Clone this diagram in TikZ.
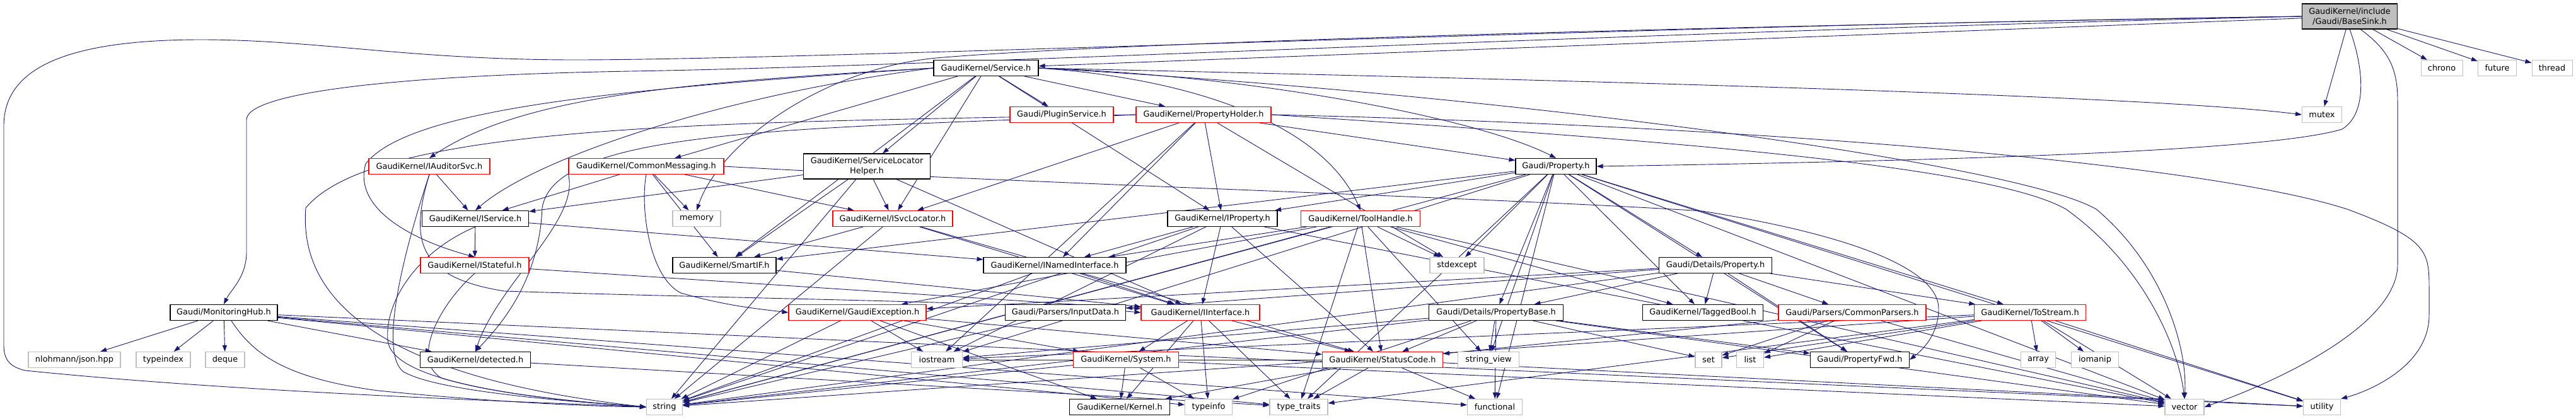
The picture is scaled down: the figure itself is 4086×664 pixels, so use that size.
\documentclass[tikz,border=0pt]{standalone}
\usepackage{fontspec}
\setmainfont{DejaVu Sans}
\usetikzlibrary{arrows.meta,backgrounds}
\definecolor{edgec}{RGB}{25,25,112}
\definecolor{grayb}{RGB}{191,191,191}
\definecolor{redb}{RGB}{255,0,0}
\definecolor{bsfill}{RGB}{191,191,191}
\tikzset{
  box/.style={draw, fill=white, line width=1.1pt, minimum height=25pt, inner sep=0pt, font=\fontsize{12.9}{15.5}\selectfont},
  nb/.style={box, draw=black},
  ng/.style={box, draw=grayb},
  nr/.style={box, draw=redb},
  e/.style={draw=edgec, line width=0.9pt, -{Triangle[length=10pt,width=7pt]}},
}
\begin{document}
\begin{tikzpicture}[x=1pt,y=1pt]
\useasboundingbox (0,0) rectangle (4086,-664);
\node[nb, fill=bsfill, minimum width=151pt, minimum height=40pt, align=center] (BS) at (3727,-26) {GaudiKernel/include\\/Gaudi/BaseSink.h};
\node[nb, minimum width=166pt] (SV) at (1564,-108) {GaudiKernel/Service.h};
\node[ng, minimum width=66pt] (chrono) at (3873,-108) {chrono};
\node[ng, minimum width=61pt] (future) at (3961,-108) {future};
\node[ng, minimum width=64pt] (thread) at (4048,-108) {thread};
\node[nr, minimum width=164pt] (PS) at (1684,-182) {Gaudi/PluginService.h};
\node[nr, minimum width=214pt] (PH) at (1909,-182) {GaudiKernel/PropertyHolder.h};
\node[ng, minimum width=63pt] (mutex) at (3683,-182) {mutex};
\node[nr, minimum width=192pt] (IAS) at (681,-264) {GaudiKernel/IAuditorSvc.h};
\node[nr, minimum width=246pt] (CM) at (1025,-264) {GaudiKernel/CommonMessaging.h};
\node[nb, minimum width=201pt, minimum height=40pt, align=center] (SLH) at (1375,-264) {GaudiKernel/ServiceLocator\\Helper.h};
\node[nb, minimum width=128pt] (PR) at (2468,-264) {Gaudi/Property.h};
\node[nb, minimum width=169pt] (IS) at (754,-347) {GaudiKernel/IService.h};
\node[ng, minimum width=76pt] (memory) at (1105,-347) {memory};
\node[nr, minimum width=190pt] (ISL) at (1416,-347) {GaudiKernel/ISvcLocator.h};
\node[nb, minimum width=174pt] (IP) at (1939,-347) {GaudiKernel/IProperty.h};
\node[nr, minimum width=189pt] (TH) at (2158,-347) {GaudiKernel/ToolHandle.h};
\node[nr, minimum width=172pt] (IST) at (753,-421) {GaudiKernel/IStateful.h};
\node[nb, minimum width=164pt] (SIF) at (1149,-421) {GaudiKernel/SmartIF.h};
\node[nb, minimum width=226pt] (INI) at (1673,-421) {GaudiKernel/INamedInterface.h};
\node[ng, minimum width=86pt] (stdexcept) at (2311,-421) {stdexcept};
\node[nb, minimum width=179pt] (DP) at (2721,-421) {Gaudi/Details/Property.h};
\node[nb, minimum width=170pt] (MH) at (355,-496) {Gaudi/MonitoringHub.h};
\node[nr, minimum width=218pt] (GE) at (1360,-496) {GaudiKernel/GaudiException.h};
\node[nb, minimum width=191pt] (ID) at (1690,-496) {Gaudi/Parsers/InputData.h};
\node[nr, minimum width=188pt] (II) at (1904,-496) {GaudiKernel/IInterface.h};
\node[nb, minimum width=213pt] (PB) at (2373,-496) {Gaudi/Details/PropertyBase.h};
\node[nb, minimum width=191pt] (TB) at (2701,-496) {GaudiKernel/TaggedBool.h};
\node[nr, minimum width=234pt] (CP) at (2938,-496) {Gaudi/Parsers/CommonParsers.h};
\node[nr, minimum width=177pt] (TS) at (3220,-496) {GaudiKernel/ToStream.h};
\node[ng, minimum width=146pt] (json) at (118,-571) {nlohmann/json.hpp};
\node[ng, minimum width=86pt] (typeindex) at (259,-571) {typeindex};
\node[ng, minimum width=62pt] (deque) at (357,-571) {deque};
\node[nb, minimum width=175pt] (DET) at (754,-571) {GaudiKernel/detected.h};
\node[ng, minimum width=81pt] (iostream) at (1486,-571) {iostream};
\node[nr, minimum width=167pt] (SYS) at (1786,-571) {GaudiKernel/System.h};
\node[nr, minimum width=191pt] (SC) at (2193,-571) {GaudiKernel/StatusCode.h};
\node[ng, minimum width=97pt] (strv) at (2361,-571) {string\_view};
\node[ng, minimum width=42pt] (set) at (2710,-571) {set};
\node[ng, minimum width=43pt] (list) at (2776,-571) {list};
\node[nb, minimum width=157pt] (PF) at (2950,-571) {Gaudi/PropertyFwd.h};
\node[ng, minimum width=55pt] (array) at (3233,-571) {array};
\node[ng, minimum width=75pt] (iomanip) at (3323,-571) {iomanip};
\node[ng, minimum width=57pt] (string) at (1054,-646) {string};
\node[nb, minimum width=159pt] (KER) at (1776,-646) {GaudiKernel/Kernel.h};
\node[ng, minimum width=75pt] (typeinfo) at (1917,-646) {typeinfo};
\node[ng, minimum width=92pt] (ttraits) at (2060,-646) {type\_traits};
\node[ng, minimum width=87pt] (functional) at (2371,-646) {functional};
\node[ng, minimum width=62pt] (vector) at (3465,-646) {vector};
\node[ng, minimum width=59pt] (utility) at (3683,-646) {utility};
\begin{pgfonlayer}{background}
\foreach \a/\b in {BS/SV, BS/chrono, BS/future, BS/thread, BS/mutex,
  SV/CM, SV/SLH, SV/PS, SV/PH, SV/ISL, SV/IP, SV/SIF,
  PH/PR, PH/ISL, PH/IP, PH/INI, PH/iostream, PH/stdexcept,
  IAS/IS, CM/IS, CM/memory, CM/ISL, CM/SIF,
  SLH/IS, SLH/SIF, SLH/string, SLH/ISL, SLH/II,
  ISL/SIF, ISL/string, ISL/II, ISL/SC,
  IP/INI, IP/II, IP/string, IP/SC, IP/iostream, IP/vector,
  TH/INI, TH/GE, TH/ttraits, TH/TB, TH/stdexcept, TH/string, TH/SC, TH/strv, TH/vector,
  IS/IST, IS/INI, IST/II, SIF/II, INI/II, INI/string,
  DP/TB, DP/CP, DP/PB, DP/ID, DP/GE, DP/string, DP/TS, DP/PF,
  PR/DP, PR/PB, PR/PF, PR/IP, PR/TB, PR/TS, PR/stdexcept, PR/string, PR/strv, PR/utility, PR/vector, PR/functional, PR/ttraits, PR/SIF, PR/iostream,
  PB/SC, PB/strv, PB/functional, PB/set, PB/PF, PB/string, PB/iostream, PB/typeinfo, PB/vector,
  CP/set, CP/list, CP/vector, CP/SC,
  TS/array, TS/iomanip, TS/vector, TS/utility, TS/iostream, TS/set, TS/list, TS/string, TS/ttraits,
  SC/iostream, SC/KER, SC/ttraits, SC/functional, SC/utility,
  GE/string, GE/KER, GE/iostream, GE/SYS, GE/SC,
  ID/string,
  II/KER, II/SYS, II/typeinfo, II/ttraits, II/SC,
  SYS/KER, SYS/typeinfo, SYS/string, SYS/vector,
  MH/json, MH/typeindex, MH/deque, MH/DET, MH/functional, MH/typeinfo, MH/ttraits, MH/utility,
  DET/ttraits}
  { \draw[e] (\a) -- (\b); }
% long routed connectors
\draw[e] (BS.west) .. controls (2600,-40) and (1300,-95) .. (912,-95) .. controls (650,-95) and (500,-63) .. (319,-63) .. controls (80,-63) and (6,-120) .. (6,-200) -- (6,-548) .. controls (6,-575) and (20,-583) .. (40,-588) .. controls (400,-625) and (900,-640) .. (string.west);
\draw[e] (BS.west) .. controls (2600,-50) and (1500,-105) .. (1000,-113) .. controls (600,-120) and (391,-150) .. (391,-190) -- (391,-400) .. controls (391,-440) and (366,-460) .. (MH.north);
\draw[e] (BS.west) .. controls (2800,-40) and (1800,-65) .. (1485,-92) .. controls (1300,-110) and (1140,-230) .. (memory.north);
\draw[e] (BS.south) .. controls (3750,-110) and (3755,-180) .. (3715,-205) .. controls (3600,-240) and (3100,-255) .. (PR.east);
\draw[e] ([xshift=17pt]BS.south) .. controls (3790,-80) and (3803,-110) .. (3803,-160) -- (3803,-420) .. controls (3803,-520) and (3600,-610) .. (vector.east);
\draw[e] (SV.west) .. controls (1100,-130) and (830,-150) .. (IAS.north);
\draw[e] (SV.west) .. controls (1000,-140) and (650,-170) .. (580,-260) .. controls (560,-330) and (650,-380) .. (IST.north);
\draw[e] (SV.west) .. controls (1150,-150) and (850,-250) .. (IS.north);
\draw[e] (SV.east) .. controls (2400,-125) and (3400,-150) .. (mutex.west);
\draw[e] (SV.east) .. controls (2400,-150) and (3200,-260) .. (3325,-332) .. controls (3430,-420) and (3470,-550) .. (vector.north);
\draw[e] (SV.east) .. controls (1900,-125) and (2100,-200) .. (TH.north);
\draw[e] (SV.east) .. controls (2000,-120) and (2350,-190) .. (PR.north);
\draw[e] (PH.west) .. controls (1200,-195) and (600,-190) .. (485,-330) .. controls (470,-520) and (700,-610) .. (string.west);
\draw[e] (PH.west) .. controls (1300,-205) and (880,-200) .. (860,-330) .. controls (855,-450) and (790,-520) .. (DET.north);
\draw[e] (PH.east) .. controls (2800,-200) and (3500,-260) .. (3723,-332) .. controls (3853,-380) and (3853,-400) .. (3853,-460) -- (3853,-500) .. controls (3853,-580) and (3760,-620) .. (utility.north east);
\draw[e] (PH.east) .. controls (2600,-220) and (3150,-260) .. (3277,-332) .. controls (3400,-420) and (3455,-550) .. (vector.north);
\draw[e] (IAS.south) .. controls (640,-400) and (600,-560) .. (640,-590) .. controls (700,-625) and (950,-640) .. (string.west);
\draw[e] (IAS.south) .. controls (650,-380) and (660,-440) .. (800,-462) .. controls (1200,-475) and (1600,-478) .. (II.west);
\draw[e] (CM.south west) .. controls (920,-350) and (790,-450) .. (DET.north);
\draw[e] (CM.south) .. controls (1015,-330) and (1030,-440) .. (1080,-465) .. controls (1150,-485) and (1200,-490) .. (GE.west);
\draw[e] (CM.east) .. controls (1600,-290) and (2400,-315) .. (2700,-335) .. controls (2950,-375) and (3075,-430) .. (3075,-490) .. controls (3075,-530) and (3050,-555) .. (PF.east);
\draw[e] (IS.south) .. controls (660,-400) and (610,-480) .. (615,-540) .. controls (620,-600) and (800,-630) .. (string.west);
\draw[e] (IST.south) .. controls (700,-480) and (650,-570) .. (700,-600) .. controls (800,-630) and (950,-640) .. (string.west);
\draw[e] ([xshift=12pt]MH.south) .. controls (400,-560) and (450,-600) .. (600,-620) .. controls (800,-640) and (950,-645) .. (string.west);
\end{pgfonlayer}
\end{tikzpicture}
\end{document}
